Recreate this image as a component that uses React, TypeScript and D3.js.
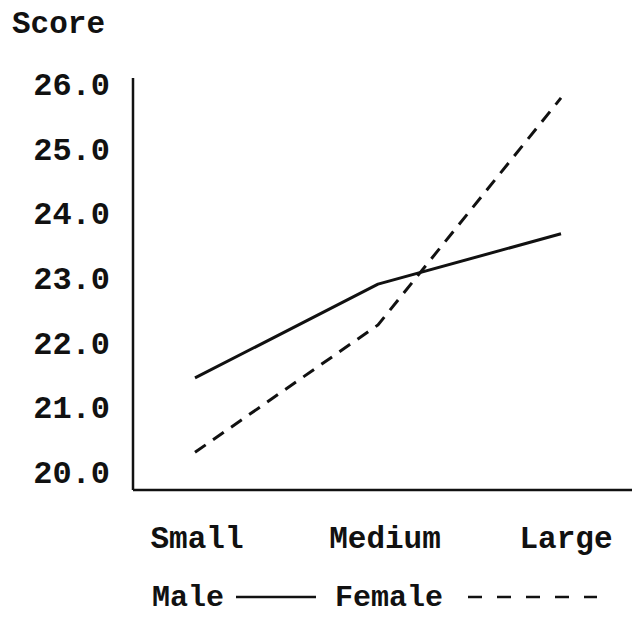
import React from "react";
import * as d3 from "d3";

const categories = ["Small", "Medium", "Large"];
const maleValues = [21.47, 22.92, 23.7];
const femaleValues = [20.32, 22.29, 25.8];
const yTicks = [20, 21, 22, 23, 24, 25, 26];
const yTickLabels = ["20.0", "21.0", "22.0", "23.0", "24.0", "25.0", "26.0"];

const W = 632;
const H = 618;
const FONT = "'Liberation Mono', 'DejaVu Sans Mono', monospace";

export default function App() {
  const x = d3.scalePoint<string>().domain(categories).range([195, 561]);
  const y = d3.scaleLinear().domain([20, 26]).range([473, 85]);
  const axisX = 133;
  const axisBottom = y(20) + 17;
  const axisTop = y(26) - 7;

  const line = d3
    .line<number>()
    .x((_, i) => x(categories[i]) as number)
    .y((d) => y(d));

  const labelX: Record<string, number> = { Small: 197, Medium: 385, Large: 566 };

  return (
    <svg
      width={W}
      height={H}
      style={{ position: "absolute", left: 0, top: 0, background: "#fff" }}
    >
      <text x={12} y={33} fontFamily={FONT} fontSize={31} fontWeight="bold" fill="#111">
        Score
      </text>
      {yTicks.map((t, i) => (
        <text
          key={t}
          x={110}
          y={y(t) + 10}
          textAnchor="end"
          fontFamily={FONT}
          fontSize={32}
          fill="#111"
          fontWeight="bold"
        >
          {yTickLabels[i]}
        </text>
      ))}
      <line x1={axisX} y1={axisTop} x2={axisX} y2={axisBottom} stroke="#111" strokeWidth={2.5} />
      <line x1={axisX} y1={axisBottom} x2={W} y2={axisBottom} stroke="#111" strokeWidth={2.5} />
      <path d={line(maleValues) || ""} fill="none" stroke="#111" strokeWidth={3} strokeLinejoin="round" />
      <path
        d={line(femaleValues) || ""}
        fill="none"
        stroke="#111"
        strokeWidth={3}
        strokeDasharray="13 9"
      />
      {categories.map((c) => (
        <text
          key={c}
          x={labelX[c]}
          y={548}
          textAnchor="middle"
          fontFamily={FONT}
          fontSize={31}
          fontWeight="bold"
          fill="#111"
        >
          {c}
        </text>
      ))}
      <text x={152} y={606} fontFamily={FONT} fontSize={30} fontWeight="bold" fill="#111">
        Male
      </text>
      <line x1={236} y1={597} x2={316} y2={597} stroke="#111" strokeWidth={2.5} />
      <text x={335} y={606} fontFamily={FONT} fontSize={30} fontWeight="bold" fill="#111">
        Female
      </text>
      <line x1={468} y1={597} x2={597} y2={597} stroke="#111" strokeWidth={2.5} strokeDasharray="14 15" />
    </svg>
  );
}
